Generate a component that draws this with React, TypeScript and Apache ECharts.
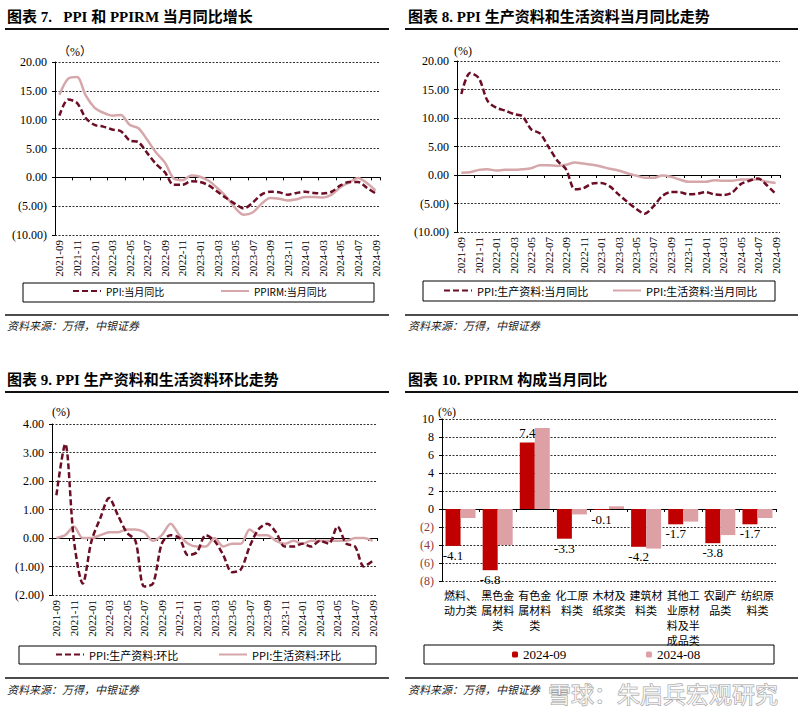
import React, { useEffect, useRef } from 'react';
import * as echarts from 'echarts';

const months = [
  '2021-09','2021-10','2021-11','2021-12','2022-01','2022-02','2022-03','2022-04','2022-05','2022-06',
  '2022-07','2022-08','2022-09','2022-10','2022-11','2022-12','2023-01','2023-02','2023-03','2023-04',
  '2023-05','2023-06','2023-07','2023-08','2023-09','2023-10','2023-11','2023-12','2024-01','2024-02',
  '2024-03','2024-04','2024-05','2024-06','2024-07','2024-08','2024-09',
];

// Chart 7
const ppiYoY = [10.7,13.5,12.9,10.3,9.1,8.8,8.3,8.0,6.4,6.1,4.2,2.3,0.9,-1.3,-1.3,-0.7,-0.8,-1.4,-2.5,-3.6,-4.6,-5.4,-4.4,-3.0,-2.5,-2.6,-3.0,-2.7,-2.5,-2.7,-2.8,-2.5,-1.4,-0.8,-0.8,-1.8,-2.8];
const ppirmYoY = [14.3,17.1,17.4,14.2,12.1,11.2,10.7,10.8,9.1,8.5,6.5,4.3,2.6,-0.2,-0.5,0.3,0.1,-0.6,-1.9,-3.4,-5.3,-6.5,-6.1,-4.6,-3.6,-3.7,-4.0,-3.8,-3.4,-3.4,-3.5,-3.0,-1.7,-0.9,-0.1,-1.0,-2.3];

// Chart 8
const prodYoY = [14.2,17.9,17.0,13.0,11.8,11.3,10.7,10.3,8.0,7.3,4.9,2.5,1.0,-2.5,-2.3,-1.5,-1.4,-2.0,-3.4,-4.7,-5.9,-6.8,-5.5,-3.7,-3.0,-3.0,-3.4,-3.3,-3.0,-3.4,-3.5,-3.1,-1.6,-1.0,-0.6,-1.8,-3.3];
const livingYoY = [0.4,0.5,0.9,1.0,0.8,0.9,0.9,1.0,1.2,1.7,1.7,1.6,1.8,2.2,2.0,1.8,1.5,1.1,0.8,0.3,-0.1,-0.5,-0.5,-0.1,-0.3,-0.8,-1.2,-1.2,-1.2,-0.9,-1.0,-1.0,-0.8,-0.8,-0.8,-1.2,-1.4];

// Chart 9
const prodMoM = [1.5,3.3,-0.1,-1.6,-0.1,0.7,1.4,0.8,0.2,-0.1,-1.7,-1.6,-0.2,0.1,0.0,-0.6,-0.5,0.1,-0.1,-0.6,-1.2,-1.1,-0.3,0.3,0.5,0.2,-0.3,-0.3,-0.2,-0.3,-0.1,-0.2,0.4,-0.2,-0.3,-1.0,-0.8];
const livingMoM = [0.0,0.1,0.4,0.0,0.0,0.1,0.2,0.2,0.3,0.3,0.2,-0.1,0.1,0.5,0.1,-0.2,-0.3,-0.3,0.0,-0.3,-0.2,-0.2,0.3,0.1,0.1,-0.1,-0.2,-0.1,-0.2,-0.1,-0.1,-0.1,-0.1,-0.1,0.0,0.0,-0.1];

// Chart 10
const ppirmCats = ['燃料、动力类','黑色金属材料类','有色金属材料类','化工原料类','木材及纸浆类','建筑材料类','其他工业原材料及半成品类','农副产品类','纺织原料类'];
const sep2024 = [-4.1,-6.8,7.4,-3.3,-0.1,-4.2,-1.7,-3.8,-1.7];
const aug2024 = [-1.0,-4.0,9.0,-0.6,0.3,-4.4,-1.4,-2.9,-1.0];

const SERIF = "'Liberation Serif','Noto Sans CJK SC',serif";
const CJK = "'Noto Sans CJK SC','Noto Sans',sans-serif";
const DARK = '#6B0D24';
const PINK = '#D6A7AA';
const BAR1 = '#C00000';
const BAR2 = '#DDA0A5';

const grids = [
  { left: 55, top: 62, width: 325, height: 173 },
  { left: 457, top: 61, width: 323, height: 171 },
  { left: 52, top: 424, width: 325, height: 171 },
  { left: 442, top: 419, width: 334, height: 162 },
];

const fmt2 = (v: number) => (v < 0 ? `(${Math.abs(v).toFixed(2)})` : v.toFixed(2));

const splitLine = { show: true, lineStyle: { color: '#333', type: [2, 1.5] as any, width: 1 } };

function labelXAxis(gridIndex: number, data: string[], extra: any = {}) {
  return {
    type: 'category', gridIndex, data, position: 'bottom', boundaryGap: true,
    axisLine: { show: false, onZero: false },
    axisTick: { show: false },
    splitLine: { show: false },
    axisLabel: { interval: 1, rotate: 90, fontFamily: SERIF, fontSize: 11, color: '#000', margin: 5 },
    ...extra,
  };
}
function zeroXAxis(gridIndex: number, data: string[], tickInterval: number) {
  return {
    type: 'category', gridIndex, data, position: 'bottom', boundaryGap: true,
    axisLine: { show: true, onZero: true, lineStyle: { color: '#000', width: 1 } },
    axisTick: { show: true, interval: tickInterval, length: 3, lineStyle: { color: '#000' } },
    axisLabel: { show: false },
    splitLine: { show: false },
  };
}
function yAxisOf(gridIndex: number, min: number, max: number, interval: number, fmt: (v: number) => string, color: any = '#000') {
  return {
    type: 'value', gridIndex, min, max, interval,
    axisLine: { show: true, lineStyle: { color: '#000', width: 1 } },
    axisTick: { show: true, length: 3, lineStyle: { color: '#000' } },
    axisLabel: { formatter: fmt, fontFamily: SERIF, fontSize: 12, color, margin: 8 },
    splitLine,
  };
}

const dashed = { color: DARK, width: 2.5, type: [6, 3] as any };
const solid = { color: PINK, width: 2.5 };

function lineSeries(name: string, data: number[], xi: number, yi: number, style: any, color: string, z: number) {
  return {
    type: 'line', name, data, xAxisIndex: xi, yAxisIndex: yi, symbol: 'none', smooth: 0.3,
    lineStyle: style, itemStyle: { color }, z,
  };
}

function legendOf(name: string, left: number, top: number, fontSize = 11, extra: any = {}) {
  return {
    data: [name], left, top, padding: 0, itemWidth: 28, itemHeight: 12, itemGap: 0,
    textStyle: { fontFamily: CJK, fontSize, color: '#000' },
    itemStyle: { opacity: 0 },
    selectedMode: false,
    ...extra,
  };
}

function title(text: string, x: number, y: number) {
  return { type: 'text', x, y, style: { text, fontFamily: SERIF, fontSize: 15, fontWeight: 'bold', fill: '#000', verticalAlign: 'middle' } };
}
function hline(x1: number, x2: number, y: number, w: number) {
  return { type: 'line', shape: { x1, y1: y, x2, y2: y }, style: { stroke: '#111', lineWidth: w } };
}
function source(x: number, y: number) {
  return { type: 'text', x, y, style: { text: '资料来源：万得，中银证券', fontFamily: CJK, fontSize: 11, fontStyle: 'italic', fill: '#222', verticalAlign: 'middle' } };
}
function box(x: number, y: number, w: number, h: number) {
  return { type: 'rect', shape: { x, y, width: w, height: h }, style: { fill: 'none', stroke: '#000', lineWidth: 1 }, z: -1 };
}
function pct(text: string, x: number, y: number) {
  return { type: 'text', x, y, style: { text, fontFamily: SERIF, fontSize: 12, fill: '#000', verticalAlign: 'middle' } };
}

export default function App() {
  const ref = useRef<HTMLDivElement>(null);
  useEffect(() => {
    if (!ref.current) return;
    const chart = echarts.init(ref.current, undefined, { renderer: 'svg' });
    const wrap = (v: string) => (v.match(/.{1,3}/g) || [v]).join('\n');
    const barLegendText = { fontFamily: SERIF, fontSize: 13, color: '#000' };
    const option: any = {
      animation: false,
      backgroundColor: '#fff',
      grid: grids.map((g) => ({ ...g, containLabel: false })),
      xAxis: [
        labelXAxis(0, months), zeroXAxis(0, months, 1),
        labelXAxis(1, months), zeroXAxis(1, months, 1),
        labelXAxis(2, months), zeroXAxis(2, months, 1),
        {
          type: 'category', gridIndex: 3, data: ppirmCats, position: 'bottom', boundaryGap: true,
          axisLine: { show: false, onZero: false }, axisTick: { show: false },
          axisLabel: { interval: 0, formatter: wrap, fontFamily: CJK, fontSize: 11, color: '#000', lineHeight: 15, margin: 6 },
        },
        zeroXAxis(3, ppirmCats, 0),
      ],
      yAxis: [
        yAxisOf(0, -10, 20, 5, fmt2),
        yAxisOf(1, -10, 20, 5, fmt2),
        yAxisOf(2, -2, 4, 1, fmt2),
        yAxisOf(3, -8, 10, 2, (v: number) => (v < 0 ? `(${Math.abs(v)})` : `${v}`), (v: any) => (Number(v) < 0 ? '#8B3A3A' : '#000')),
      ],
      legend: [
        legendOf('PPI:当月同比', 72, 286, 10),
        legendOf('PPIRM:当月同比', 220, 286, 10),
        legendOf('PPI:生产资料:当月同比', 443, 285),
        legendOf('PPI:生活资料:当月同比', 612, 285),
        legendOf('PPI:生产资料:环比', 55, 649),
        legendOf('PPI:生活资料:环比', 218, 649),
        legendOf('2024-09', 512, 648, 12, { itemWidth: 6, itemHeight: 6, itemStyle: {}, textStyle: barLegendText }),
        legendOf('2024-08', 646, 648, 12, { itemWidth: 6, itemHeight: 6, itemStyle: {}, textStyle: barLegendText }),
      ],
      series: [
        lineSeries('PPIRM:当月同比', ppirmYoY, 0, 0, solid, PINK, 2),
        lineSeries('PPI:当月同比', ppiYoY, 0, 0, dashed, DARK, 3),
        lineSeries('PPI:生活资料:当月同比', livingYoY, 2, 1, solid, PINK, 2),
        lineSeries('PPI:生产资料:当月同比', prodYoY, 2, 1, dashed, DARK, 3),
        lineSeries('PPI:生活资料:环比', livingMoM, 4, 2, solid, PINK, 2),
        lineSeries('PPI:生产资料:环比', prodMoM, 4, 2, dashed, DARK, 3),
        {
          type: 'bar', name: '2024-09', xAxisIndex: 6, yAxisIndex: 3, barWidth: 15, barGap: '0%',
          itemStyle: { color: BAR1 },
          data: sep2024.map((v) => ({ value: v, label: { position: v >= 0 ? 'top' : 'bottom' } })),
          label: { show: true, fontFamily: SERIF, fontSize: 13, color: '#000', distance: 3, formatter: (p: any) => Number(p.value).toFixed(1) },
          z: 3,
        },
        {
          type: 'bar', name: '2024-08', xAxisIndex: 6, yAxisIndex: 3, barWidth: 15, barGap: '0%',
          itemStyle: { color: BAR2 }, data: aug2024, z: 3,
        },
      ],
      graphic: [
        title('图表 7.   PPI 和 PPIRM 当月同比增长', 7, 17),
        title('图表 8. PPI 生产资料和生活资料当月同比走势', 408, 17),
        title('图表 9. PPI 生产资料和生活资料环比走势', 7, 380),
        title('图表 10. PPIRM 构成当月同比', 408, 380),
        hline(5, 389, 29, 2), hline(405, 798, 29, 2),
        hline(5, 389, 392, 2), hline(405, 798, 392, 2),
        hline(5, 389, 315, 1.5), hline(405, 798, 315, 1.5),
        hline(5, 389, 678, 1.5), hline(405, 798, 678, 1.5),
        source(7, 325), source(408, 325), source(7, 689), source(408, 689),
        box(23, 283, 351, 19), box(423, 281, 352, 20), box(19, 646, 357, 18), box(424, 645, 350, 19),
        pct('（%）', 58, 52), pct('(%)', 454, 51), pct('(%)', 52, 412), pct('(%)', 438, 412),
        {
          type: 'text', x: 548, y: 693, z: 100,
          style: { text: '雪球：朱启兵宏观研究', fontFamily: CJK, fontSize: 23, fill: 'rgba(255,255,255,0.75)', stroke: '#9a9a9a', lineWidth: 1, verticalAlign: 'middle' },
        },
      ],
    };
    chart.setOption(option);
    return () => chart.dispose();
  }, []);
  return <div ref={ref} style={{ position: 'absolute', left: 0, top: 0, width: 800, height: 722, background: '#fff' }} />;
}
